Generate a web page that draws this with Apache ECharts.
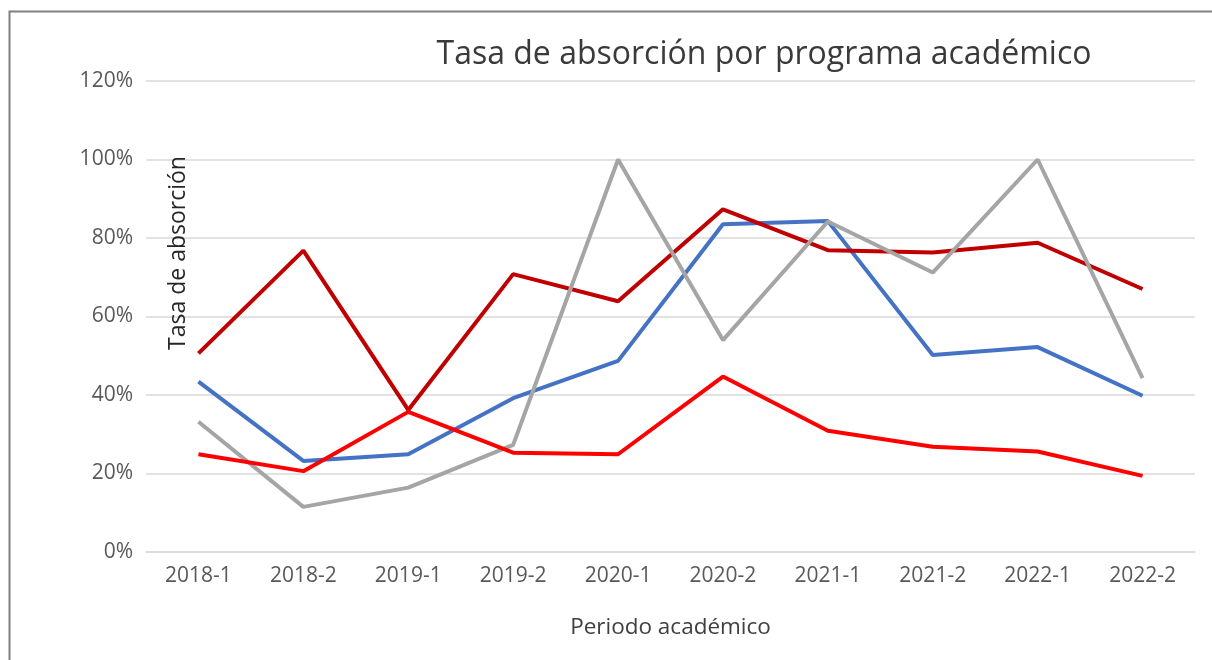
<!DOCTYPE html>
<html>
<head>
<meta charset="utf-8">
<script src="https://cdn.jsdelivr.net/npm/echarts@6/dist/echarts.min.js"></script>
<style>
html,body{margin:0;padding:0;background:#fff;}
#chart{width:1212px;height:660px;}
</style>
</head>
<body>
<div id="chart"></div>
<script>
const categories = ['2018-1','2018-2','2019-1','2019-2','2020-1','2020-2','2021-1','2021-2','2022-1','2022-2'];
const seriesBlue    = [0.434, 0.232, 0.249, 0.392, 0.487, 0.835, 0.843, 0.502, 0.522, 0.398];
const seriesDarkRed = [0.506, 0.768, 0.362, 0.708, 0.639, 0.873, 0.769, 0.763, 0.788, 0.670];
const seriesGrey    = [0.332, 0.115, 0.164, 0.273, 1.000, 0.540, 0.842, 0.712, 1.000, 0.443];
const seriesRed     = [0.249, 0.206, 0.357, 0.253, 0.249, 0.447, 0.309, 0.268, 0.256, 0.194];
const yTicks = [0, 0.2, 0.4, 0.6, 0.8, 1.0, 1.2];

const FONT = 'Open Sans';
const chart = echarts.init(document.getElementById('chart'), null, {renderer:'canvas'});

function line(name, data, color) {
  return {
    name: name, type: 'line', data: data, symbol: 'none',
    lineStyle: {color: color, width: 4},
    itemStyle: {color: color},
    animation: false
  };
}

chart.setOption({
  backgroundColor: '#ffffff',
  animation: false,
  title: {
    text: 'Tasa de absorción por programa académico',
    left: 759, top: 34, textAlign: 'center',
    textStyle: {fontFamily: FONT, fontSize: 32, fontWeight: 'normal', color: '#3a3a3a'}
  },
  grid: {left: 146, right: 17, top: 81, bottom: 108, containLabel: false},
  xAxis: {
    type: 'category', data: categories, boundaryGap: true,
    axisTick: {show: false},
    axisLine: {lineStyle: {color: '#d9d9d9', width: 1.5}},
    axisLabel: {fontFamily: FONT, fontSize: 21, color: '#595959', margin: 14},
    name: 'Periodo académico', nameLocation: 'middle', nameGap: 64,
    nameTextStyle: {fontFamily: FONT, fontSize: 22.5, color: '#404040'}
  },
  yAxis: {
    type: 'value', min: yTicks[0], max: yTicks[yTicks.length - 1], interval: 0.2,
    axisLine: {show: false}, axisTick: {show: false},
    splitLine: {lineStyle: {color: '#d9d9d9', width: 1.5}},
    axisLabel: {
      fontFamily: FONT, fontSize: 21, color: '#595959', margin: 13,
      formatter: function (v) { return Math.round(v * 100) + '%'; }
    }
  },
  graphic: [
    {type: 'rect', left: 7, top: 9, silent: true, z: 100,
     shape: {x: 0, y: 0, width: 1400, height: 900},
     style: {fill: 'none', stroke: '#808080', lineWidth: 2}},
    {type: 'text', x: 178, y: 253, rotation: Math.PI / 2, z: 100,
     style: {text: 'Tasa de absorción', fontFamily: FONT, fontSize: 23, fill: '#262626',
             textAlign: 'center', textVerticalAlign: 'middle'}}
  ],
  series: [
    line('Programa A', seriesBlue, '#4472C4'),
    line('Programa B', seriesDarkRed, '#C00000'),
    line('Programa C', seriesGrey, '#A5A5A5'),
    line('Programa D', seriesRed, '#FF0000')
  ]
});
</script>
</body>
</html>
